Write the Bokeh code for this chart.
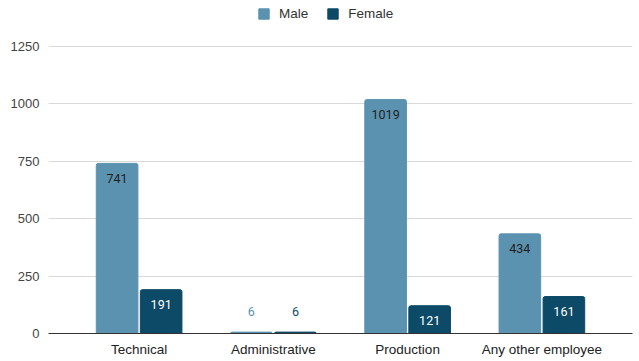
from bokeh.plotting import figure
from bokeh.models import (ColumnDataSource, FactorRange, Range1d, FixedTicker,
                          Legend, LegendItem)
from bokeh.transform import dodge
from bokeh.core.properties import value
from bokeh.embed import file_html
from bokeh.resources import INLINE

# Headcount by employee category and gender
categories = ["Technical", "Administrative", "Production", "Any other employee"]
male = [741, 6, 1019, 434]
female = [191, 6, 121, 161]
y_ticks = [0, 250, 500, 750, 1000, 1250]

MALE_COLOR = "#5b92b0"
FEMALE_COLOR = "#0d4a67"
OFFSET = 0.164
BAR_W = 0.31

p = figure(
    x_range=FactorRange(*categories, range_padding=0.0875),
    y_range=Range1d(0, 1433),
    width=639, height=361,
    output_backend="svg", toolbar_location=None,
    min_border_left=48, min_border_right=7,
    min_border_top=4, min_border_bottom=28,
)

src = ColumnDataSource(dict(cat=categories, male=male, female=female))

r_m = p.vbar(x=dodge("cat", -OFFSET, range=p.x_range), top="male", width=BAR_W,
             source=src, color=MALE_COLOR, border_radius=(2, 2, 0, 0))
r_f = p.vbar(x=dodge("cat", OFFSET, range=p.x_range), top="female", width=BAR_W,
             source=src, color=FEMALE_COLOR, border_radius=(2, 2, 0, 0))


# Value labels: inside the bar top when the bar is tall enough, otherwise above it
def label_source(vals, bar_color, inside_color):
    inside = [v > 60 for v in vals]
    return ColumnDataSource(dict(
        cat=categories,
        y=vals,
        text=[str(v) for v in vals],
        color=[inside_color if i else bar_color for i in inside],
        yoff=[15 if i else -21 for i in inside],
    ))


for vals, col, inner, off in [(male, MALE_COLOR, "#1f1f1f", -OFFSET),
                              (female, FEMALE_COLOR, "#ffffff", OFFSET)]:
    p.text(x=dodge("cat", off, range=p.x_range), y="y", text="text",
           source=label_source(vals, col, inner),
           text_color="color", y_offset="yoff",
           text_align="center", text_baseline="middle",
           text_font=value("Roboto"), text_font_size="12.5px")

# Axes
p.xaxis.axis_line_color = "#333333"
p.xaxis.major_tick_line_color = None
p.xaxis.minor_tick_line_color = None
p.xaxis.major_label_text_font = "Liberation Sans"
p.xaxis.major_label_text_font_size = "13.5px"
p.xaxis.major_label_text_color = "#222222"
p.xaxis.major_label_standoff = 2

p.yaxis.ticker = FixedTicker(ticks=y_ticks)
p.yaxis.axis_line_color = None
p.yaxis.major_tick_line_color = None
p.yaxis.minor_tick_line_color = None
p.yaxis.major_label_text_font = "Liberation Sans"
p.yaxis.major_label_text_font_size = "13px"
p.yaxis.major_label_text_color = "#444444"
p.yaxis.major_label_standoff = 3

p.xgrid.grid_line_color = None
p.ygrid.grid_line_color = "#d9d9d9"
p.outline_line_color = None

legend = Legend(
    items=[LegendItem(label="Male", renderers=[r_m]),
           LegendItem(label="Female", renderers=[r_f])],
    location=(205, 308), orientation="horizontal",
    glyph_width=13, glyph_height=13, label_standoff=9, spacing=18,
    padding=4, margin=0,
    border_line_alpha=0, background_fill_alpha=0,
    label_text_font="Liberation Sans", label_text_font_size="13.5px",
    label_text_color="#333333", label_height=13,
)
p.add_layout(legend)

open("out.html", "w").write(file_html(p, INLINE))
